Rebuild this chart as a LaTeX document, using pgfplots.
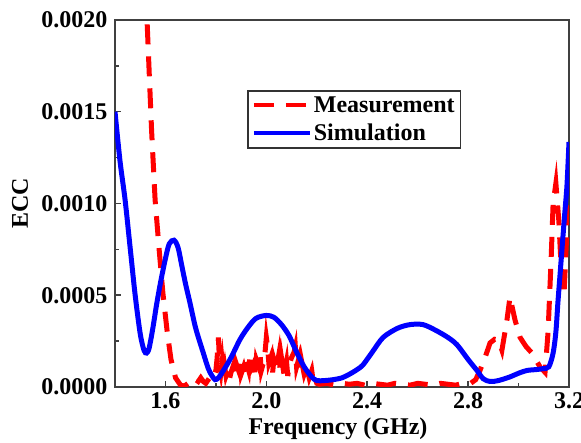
\documentclass[border=0pt]{standalone}
\usepackage{fontspec}
\setmainfont{Liberation Serif}
\usepackage{pgfplots}
\pgfplotsset{compat=1.18}
\begin{document}
\begin{tikzpicture}
\begin{axis}[
  name=ax,
  scale only axis,
  width=454pt, height=367pt,
  xmin=1.4, xmax=3.2, ymin=0, ymax=0.002,
  xtick={1.6,2.0,2.4,2.8,3.2},
  ytick={0,0.0005,0.001,0.0015,0.002},
  minor x tick num=1, minor y tick num=1,
  tick pos=left, tick align=inside,
  major tick length=6pt, minor tick length=4pt,
  scaled y ticks=false, scaled x ticks=false,
  axis line style={draw=black!75, line width=1.5pt},
  every tick/.style={black!75, line width=1.5pt},
  /pgf/number format/assume math mode=true,
  ticklabel style={font=\fontsize{24}{28}\selectfont\bfseries},
  yticklabel style={xshift=-4pt, /pgf/number format/.cd, fixed, fixed zerofill, precision=4},
  xticklabel style={yshift=-2pt, /pgf/number format/.cd, fixed, fixed zerofill, precision=1},
  xlabel={Frequency (GHz)}, ylabel={ECC},
  label style={font=\fontsize{24}{28}\selectfont\bfseries},
  xlabel style={at={(rel axis cs:0.5,0)}, anchor=center, xshift=-4pt, yshift=-42pt},
  ylabel style={at={(rel axis cs:0,0.5)}, anchor=center, yshift=95pt},
  legend style={at={(0.291,0.809)}, anchor=north west, draw=black!80, line width=1.5pt,
    font=\fontsize{24}{26}\selectfont\bfseries, inner sep=4pt, row sep=6pt,
    cells={anchor=west}},
  legend image code/.code={\draw[#1,line width=4pt] (0pt,0pt) -- (56pt,0pt);},
]
\addplot[red, line width=5pt, dash pattern=on 20pt off 12pt] coordinates {
(1.518,0.00215) (1.527,0.0020) (1.545,0.00140) (1.559,0.00102) (1.575,0.00075) (1.59,0.00051)
(1.607,0.00030) (1.622,0.00015) (1.64,0.00005) (1.66,0.00001) (1.675,0.000005) (1.69,0.00002)
(1.70,0.00003) (1.71,0.00005) (1.72,0.00004) (1.73,0.00003) (1.74,0.00005) (1.75,0.00003)
(1.76,0.00002) (1.77,0.00004) (1.78,0.00006) (1.79,0.00005) (1.80,0.00009) (1.805,0.00016)
(1.81,0.00027) (1.815,0.00012) (1.82,0.00008) (1.825,0.00014) (1.83,0.00007) (1.835,0.00011)
(1.84,0.00006) (1.85,0.00010) (1.855,0.00005) (1.86,0.00008) (1.87,0.00012) (1.875,0.00006)
(1.88,0.00013) (1.89,0.00009) (1.895,0.00015) (1.90,0.00007) (1.91,0.00011) (1.915,0.00008)
(1.92,0.00014) (1.93,0.00009) (1.935,0.00017) (1.94,0.00010) (1.95,0.00013) (1.955,0.00006)
(1.96,0.00015) (1.97,0.00011) (1.975,0.00018) (1.98,0.00009) (1.99,0.00014) (1.995,0.00019)
(2.00,0.00027) (2.005,0.00022) (2.01,0.00013) (2.02,0.00017) (2.025,0.00008) (2.03,0.00015)
(2.04,0.00010) (2.05,0.00018) (2.055,0.00009) (2.06,0.00016) (2.07,0.00007) (2.08,0.00014)
(2.085,0.00006) (2.09,0.00012) (2.10,0.00016) (2.11,0.00019) (2.115,0.00022) (2.12,0.00011)
(2.13,0.00016) (2.135,0.00008) (2.14,0.00014) (2.15,0.00007) (2.16,0.00011) (2.17,0.00005)
(2.18,0.00009) (2.185,0.00004) (2.19,0.00006) (2.20,0.00002) (2.21,0.000015) (2.24,0.00002)
(2.27,0.00001) (2.30,0.00002) (2.33,0.000015) (2.36,0.00002) (2.39,0.00001) (2.42,0.00002)
(2.45,0.000015) (2.48,0.00001) (2.51,0.00002) (2.54,0.000015) (2.57,0.00001) (2.60,0.00002)
(2.63,0.000015) (2.66,0.00001) (2.69,0.00002) (2.72,0.000015) (2.75,0.00001) (2.78,0.00002)
(2.81,0.00002) (2.83,0.00004) (2.847,0.00009) (2.867,0.00016) (2.887,0.00024) (2.905,0.00026)
(2.92,0.000256) (2.934,0.00020) (2.954,0.000365) (2.966,0.00049) (2.986,0.000365) (3.006,0.00027)
(3.03,0.00022) (3.053,0.000185) (3.085,0.00011) (3.105,0.00008) (3.117,0.00030) (3.129,0.00069)
(3.137,0.00100) (3.148,0.00111) (3.16,0.00090) (3.17,0.00062) (3.18,0.00050) (3.19,0.00080)
(3.2,0.00112)
};
\addlegendentry{Measurement}
\addplot[blue, line width=5pt, smooth] coordinates {
(1.40,0.00150) (1.42,0.00123) (1.44,0.00102) (1.46,0.00076) (1.48,0.00050) (1.50,0.00029)
(1.515,0.00020) (1.525,0.000185) (1.535,0.00021) (1.55,0.00032) (1.565,0.00045) (1.582,0.00058)
(1.60,0.00070) (1.615,0.00078) (1.634,0.00080) (1.65,0.00076) (1.665,0.00066) (1.68,0.00056)
(1.697,0.00046) (1.72,0.00032) (1.749,0.00019) (1.77,0.00010) (1.785,0.00006) (1.797,0.00004)
(1.81,0.00005) (1.83,0.00009) (1.86,0.00016) (1.896,0.00026) (1.93,0.00033) (1.96,0.000375)
(2.00,0.00039) (2.03,0.00038) (2.06,0.00034) (2.09,0.00028) (2.12,0.00019) (2.15,0.00011)
(2.18,0.000055) (2.20,0.000035) (2.23,0.000035) (2.265,0.00004) (2.30,0.00005) (2.33,0.00007)
(2.36,0.000095) (2.383,0.00012) (2.42,0.00019) (2.463,0.00027) (2.52,0.00032) (2.57,0.00034)
(2.621,0.00034) (2.67,0.00031) (2.72,0.00027) (2.756,0.00023) (2.80,0.00015) (2.835,0.00009)
(2.86,0.000045) (2.887,0.00003) (2.92,0.000035) (2.966,0.000055) (3.00,0.000075) (3.033,0.00009)
(3.07,0.000095) (3.097,0.0001) (3.12,0.00011) (3.137,0.000185) (3.148,0.00030) (3.156,0.00046)
(3.166,0.00064) (3.176,0.00082) (3.184,0.00096) (3.192,0.00110) (3.2,0.001335)
};
\addlegendentry{Simulation}
\end{axis}
\pgfresetboundingbox
\path (ax.south west) ++(-115pt,-56pt) rectangle ++(581pt,443pt);
\end{tikzpicture}
\end{document}
